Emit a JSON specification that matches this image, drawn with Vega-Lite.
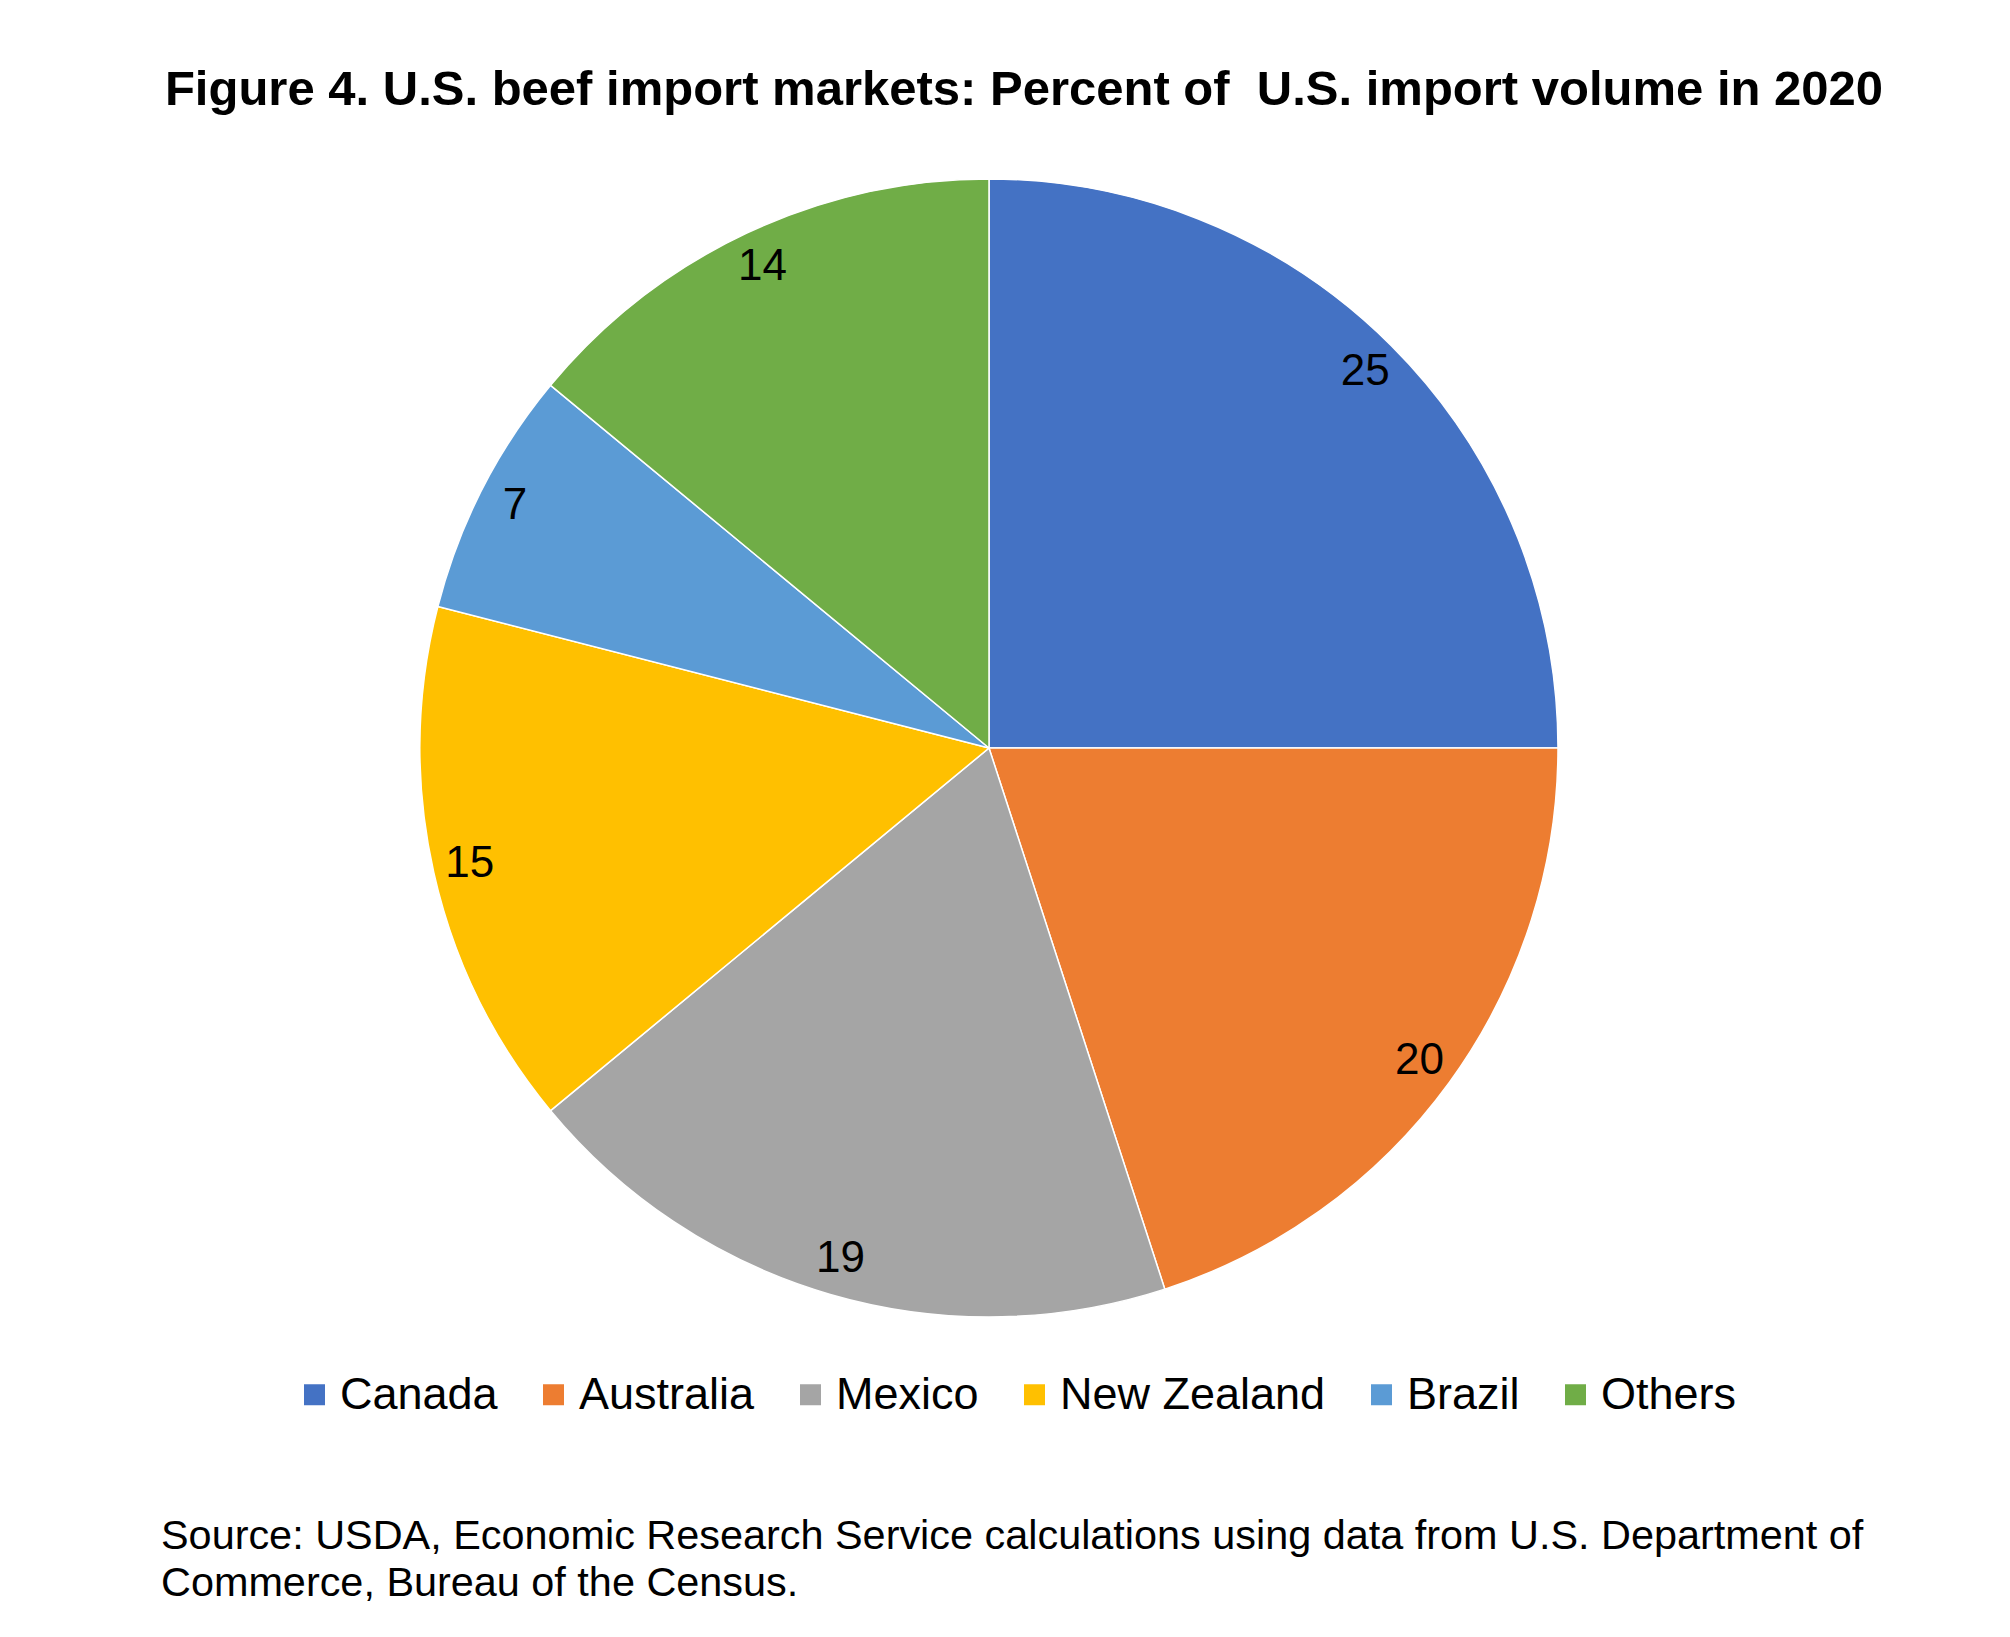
{
  "$schema": "https://vega.github.io/schema/vega-lite/v6.json",
  "background": "white",
  "padding": {"left": 0, "top": 66, "right": 0, "bottom": 0},
  "title": {
    "text": "Figure 4. U.S. beef import markets: Percent of \u00a0U.S. import volume in 2020",
    "font": "Liberation Sans",
    "fontSize": 49,
    "fontWeight": "bold",
    "color": "black",
    "anchor": "middle",
    "dx": 35,
    "offset": 61
  },
  "config": {"view": {"stroke": null}},
  "vconcat": [
    {
      "width": 1978,
      "height": 1138,
      "title": {
        "text": [
          "Source: USDA, Economic Research Service calculations using data from U.S. Department of",
          "Commerce, Bureau of the Census."
        ],
        "orient": "bottom",
        "anchor": "start",
        "dx": 161,
        "offset": 196,
        "font": "Liberation Sans",
        "fontSize": 41.4,
        "fontWeight": "normal",
        "lineHeight": 47,
        "color": "black"
      },
      "data": {
        "values": [
          {"market": "Canada", "share": 25, "rank": 1},
          {"market": "Australia", "share": 20, "rank": 2},
          {"market": "Mexico", "share": 19, "rank": 3},
          {"market": "New Zealand", "share": 15, "rank": 4},
          {"market": "Brazil", "share": 7, "rank": 5},
          {"market": "Others", "share": 14, "rank": 6}
        ]
      },
      "encoding": {
        "theta": {"field": "share", "type": "quantitative", "stack": true},
        "order": {"field": "rank", "type": "quantitative"}
      },
      "layer": [
        {
          "mark": {"type": "arc", "outerRadius": 569, "stroke": "white", "strokeWidth": 1.5},
          "encoding": {
            "color": {
              "field": "market",
              "type": "nominal",
              "scale": {
                "domain": ["Canada", "Australia", "Mexico", "New Zealand", "Brazil", "Others"],
                "range": ["#4472C4", "#ED7D31", "#A5A5A5", "#FFC000", "#5B9BD5", "#70AD47"]
              },
              "legend": {
                "title": null,
                "orient": "none",
                "direction": "horizontal",
                "columns": 6,
                "legendX": 292,
                "legendY": 1193,
                "symbolType": "square",
                "symbolSize": 441,
                "symbolStrokeWidth": 0,
                "symbolOpacity": 1,
                "labelFont": "Liberation Sans",
                "labelFontSize": 45,
                "labelColor": "black",
                "labelOffset": 3,
                "columnPadding": 33,
                "labelLimit": 0
              }
            }
          }
        },
        {
          "mark": {"type": "text", "radius": 532, "font": "Liberation Sans", "fontSize": 44, "color": "black"},
          "encoding": {"text": {"field": "share", "type": "quantitative"}}
        }
      ]
    }
  ]
}
